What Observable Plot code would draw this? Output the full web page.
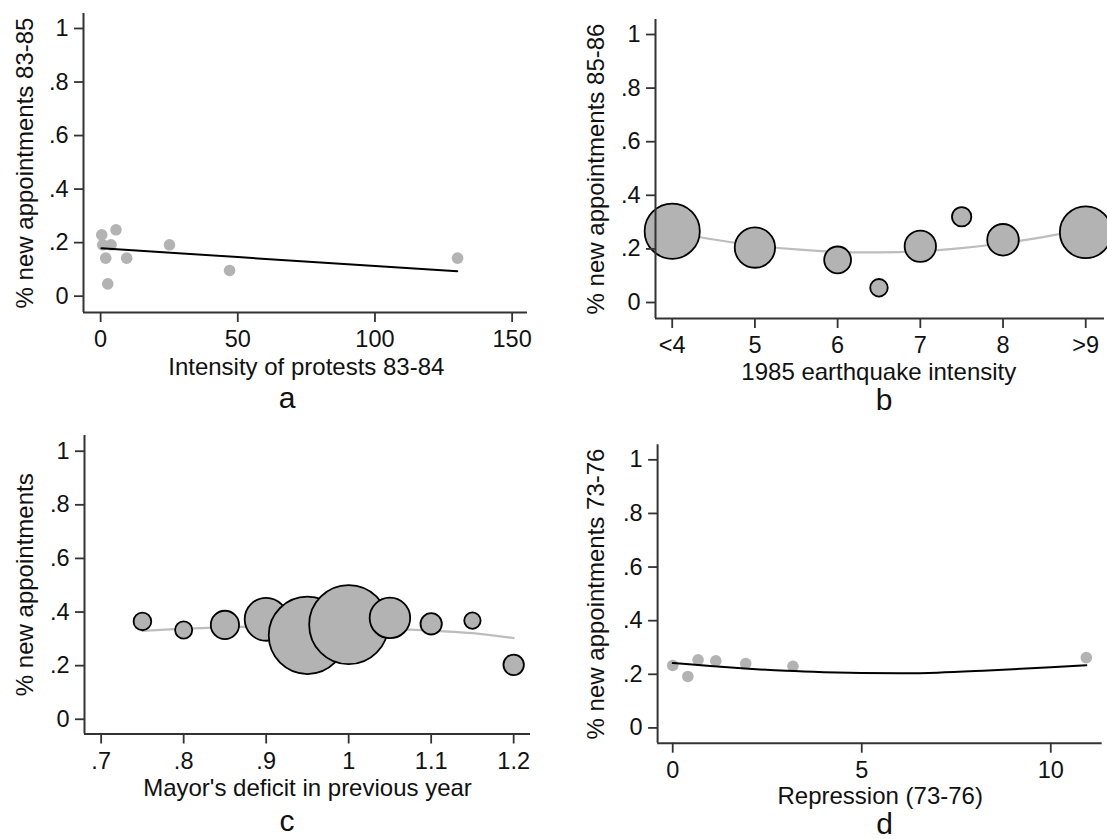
<!DOCTYPE html>
<html><head><meta charset="utf-8">
<script src="https://cdn.jsdelivr.net/npm/d3@7"></script>
<script src="https://cdn.jsdelivr.net/npm/@observablehq/plot@0.6"></script>
<style>
body{margin:0;background:#fff;}
#wrap{position:relative;width:1107px;height:839px;overflow:hidden;background:#fff;}
#wrap > svg{position:absolute;}
</style></head><body><div id="wrap"></div>
<script>
// ---- Panel a: protests ----
const protestX = [0.4, 0.77, 5.6, 3.8, 1.86, 9.5, 2.6, 25.1, 47.0, 130.1];
const protestY = [0.229, 0.192, 0.248, 0.192, 0.142, 0.142, 0.046, 0.192, 0.096, 0.142];
const protestFitX = [0.3, 50, 130];
const protestFitY = [0.179, 0.146, 0.093];
const protestTicks = [0, 50, 100, 150];

// ---- Panel b: earthquake ----
const quakeX = [4, 5, 6, 6.5, 7, 7.5, 8, 9];
const quakeY = [0.266, 0.205, 0.159, 0.055, 0.21, 0.32, 0.234, 0.262];
const quakeN = [100, 53.5, 23.6, 10.1, 32.3, 12.3, 32.8, 88];
const quakeFitX = [4, 4.5, 5, 5.5, 6, 6.5, 7, 7.5, 8, 8.5, 9];
const quakeFitY = [0.263, 0.235, 0.213, 0.198, 0.189, 0.187, 0.192, 0.203, 0.221, 0.245, 0.274];
const quakeTicks = [4, 5, 6, 7, 8, 9];
const quakeTickLabels = ["<4", "5", "6", "7", "8", ">9"];

// ---- Panel c: mayor's deficit ----
const deficitX = [0.75, 0.80, 0.85, 0.90, 0.95, 1.00, 1.05, 1.10, 1.15, 1.20];
const deficitY = [0.365, 0.333, 0.352, 0.373, 0.313, 0.353, 0.378, 0.356, 0.368, 0.203];
const deficitN = [5.0, 4.7, 12.8, 29.6, 96, 100, 26.3, 7.3, 4.3, 6.7];
const deficitFitX = [0.75, 0.80, 0.85, 0.90, 0.95, 1.00, 1.05, 1.10, 1.15, 1.20];
const deficitFitY = [0.330, 0.338, 0.343, 0.346, 0.346, 0.344, 0.338, 0.331, 0.321, 0.303];
const deficitTicks = [0.7, 0.8, 0.9, 1.0, 1.1, 1.2];

// ---- Panel d: repression ----
const repressionX = [0, 0.4, 0.67, 1.14, 1.93, 3.18, 10.94];
const repressionY = [0.233, 0.192, 0.254, 0.25, 0.24, 0.23, 0.262];
const repressionFitX = [0, 1, 2, 3, 4, 5, 6, 7, 8, 9, 10, 10.94];
const repressionFitY = [0.242, 0.231, 0.221, 0.213, 0.208, 0.205, 0.204, 0.206, 0.212, 0.219, 0.226, 0.234];
const repressionTicks = [0, 5, 10];

const yTicks = [0, 0.2, 0.4, 0.6, 0.8, 1];
const labels = {
  a: {x: "Intensity of protests 83-84", y: "% new appointments 83-85"},
  b: {x: "1985 earthquake intensity", y: "% new appointments 85-86"},
  c: {x: "Mayor's deficit in previous year", y: "% new appointments"},
  d: {x: "Repression (73-76)", y: "% new appointments 73-76"}
};

const decFmt = d => {
  if (Math.abs(d) < 1e-9) return "0";
  let s = d3.format(".1f")(d).replace(/^0\./, ".");
  if (s.endsWith(".0")) s = s.slice(0, -2);
  return s;
};

const FONT = "'Liberation Sans', Arial, Helvetica, sans-serif";
const AXIS = "#333";
const DOT = "#b3b3b3";

const pts = (xs, ys, ns) => xs.map((x, i) => ({x, y: ys[i], n: ns ? ns[i] : 1}));

function panel(o) {
  const txt = {textAnchor: "middle", lineAnchor: "middle", fill: "#111"};
  const svg = Plot.plot({
    width: o.width, height: o.height,
    marginLeft: o.m[0], marginRight: o.m[1], marginTop: o.m[2], marginBottom: o.m[3],
    x: {domain: o.xDomain},
    y: {domain: o.yDomain},
    r: o.r,
    style: {fontFamily: FONT, fontSize: "23px", color: "#111", background: "transparent", overflow: "visible"},
    marks: [
      ...o.marks,
      Plot.ruleX([o.xDomain[0]], {stroke: AXIS, strokeWidth: 2}),
      Plot.ruleY([o.yDomain[0]], {stroke: AXIS, strokeWidth: 2}),
      Plot.axisY({ticks: yTicks, tickFormat: decFmt, tickSize: 9, tickPadding: 6, fontSize: 23.5, label: null, stroke: AXIS, strokeWidth: 1.8}),
      Plot.axisX({ticks: o.xTicks, tickFormat: o.xFormat, tickSize: 10, tickPadding: 8, fontSize: 23.5, label: null, stroke: AXIS, strokeWidth: 1.8}),
      Plot.text([o.lab.y], {...txt, text: d => d, frameAnchor: "left", rotate: -90, dx: o.yLabDx, fontSize: 24}),
      Plot.text([o.lab.x], {...txt, text: d => d, frameAnchor: "bottom", dx: o.xLabDx, dy: o.xLabDy, fontSize: 24}),
      Plot.text([o.letter], {...txt, text: d => d, frameAnchor: "bottom", dx: o.letDx, dy: o.letDy, fontSize: 30})
    ]
  });
  svg.style.left = o.left + "px";
  svg.style.top = o.top + "px";
  svg.style.maxWidth = "none";
  document.getElementById("wrap").appendChild(svg);
}

// a
panel({
  left: 0, top: 0, width: 553, height: 420, m: [83, 26, 13, 108],
  xDomain: [-6.24, 155.6], yDomain: [-0.061, 1.056],
  xTicks: protestTicks, xFormat: d => String(d), lab: labels.a, letter: "a",
  yLabDx: -58.5, xLabDx: 0.8, xLabDy: 54.7, letDx: -18.5, letDy: 86,
  marks: [
    Plot.dot(pts(protestX, protestY), {x: "x", y: "y", r: 5.8, fill: DOT, stroke: "none"}),
    Plot.line(pts(protestFitX, protestFitY), {x: "x", y: "y", stroke: "#000", strokeWidth: 2, curve: "monotone-x"})
  ]
});

// b
panel({
  left: 553, top: 0, width: 554, height: 420, m: [102, 3, 19, 102],
  xDomain: [3.798, 9.227], yDomain: [-0.0597, 1.056],
  xTicks: quakeTicks, xFormat: d => quakeTickLabels[quakeTicks.indexOf(d)], lab: labels.b, letter: "b",
  r: {type: "sqrt", domain: [0, 100], range: [0, 27.6]},
  yLabDx: -59.5, xLabDx: -1.2, xLabDy: 53.7, letDx: 4, letDy: 82,
  marks: [
    Plot.line(pts(quakeFitX, quakeFitY), {x: "x", y: "y", stroke: "#bdbdbd", strokeWidth: 2.2, curve: "natural"}),
    Plot.dot(pts(quakeX, quakeY, quakeN), {x: "x", y: "y", r: "n", fill: DOT, stroke: "#000", strokeWidth: 1.8})
  ]
});

// c
panel({
  left: 0, top: 420, width: 553, height: 419, m: [84, 23, 15, 105.5],
  xDomain: [0.6798, 1.2204], yDomain: [-0.055, 1.0586],
  xTicks: deficitTicks, xFormat: decFmt, lab: labels.c, letter: "c",
  r: {type: "sqrt", domain: [0, 100], range: [0, 39.5]},
  yLabDx: -59, xLabDx: 0, xLabDy: 54.8, letDx: -20.5, letDy: 87,
  marks: [
    Plot.line(pts(deficitFitX, deficitFitY), {x: "x", y: "y", stroke: "#bdbdbd", strokeWidth: 2.2, curve: "natural"}),
    Plot.dot(pts(deficitX, deficitY, deficitN), {x: "x", y: "y", r: "n", fill: DOT, stroke: "#000", strokeWidth: 1.8, sort: null})
  ]
});

// d
panel({
  left: 553, top: 420, width: 554, height: 419, m: [104.1, 5.3, 24.3, 96.3],
  xDomain: [-0.4, 11.36], yDomain: [-0.057, 1.056],
  xTicks: repressionTicks, xFormat: d => String(d), lab: labels.d, letter: "d",
  yLabDx: -61.6, xLabDx: 0.3, xLabDy: 53, letDx: 4.6, letDy: 81.5,
  marks: [
    Plot.dot(pts(repressionX, repressionY), {x: "x", y: "y", r: 5.8, fill: DOT, stroke: "none"}),
    Plot.line(pts(repressionFitX, repressionFitY), {x: "x", y: "y", stroke: "#000", strokeWidth: 2, curve: "natural"})
  ]
});
</script>
</body></html>
